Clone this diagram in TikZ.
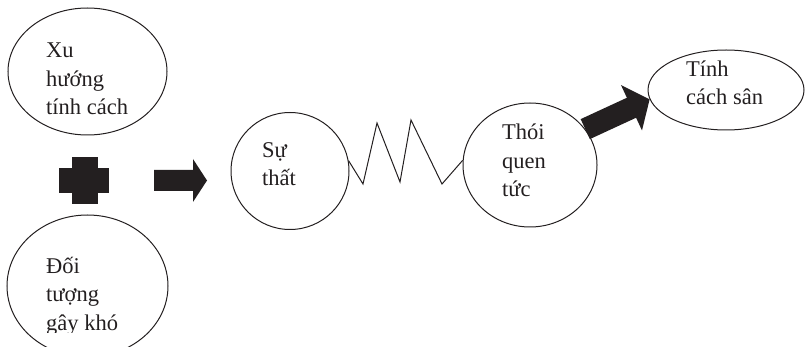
\documentclass[tikz,border=0pt]{standalone}
\usepackage{fontspec}
\setmainfont{Liberation Serif}
\usepackage{tikz}
\usetikzlibrary{arrows.meta, shapes.geometric}
\definecolor{inkblack}{HTML}{231F20}

\tikzset{
  bubble/.style={draw=inkblack, ellipse, line width=1pt, inner sep=0pt},
  lbl/.style={font=\fontsize{22.5}{28.5}\selectfont, text=inkblack, align=left, anchor=base west, inner sep=0pt},
  bigarrow/.style={inkblack, line width=22pt, -{Triangle[width=49pt,length=20pt]}}
}

\begin{document}
\begin{tikzpicture}[x=1pt, y=-1pt]
  \useasboundingbox (0,0) rectangle (805,347);
  % bubbles
  \node[bubble, minimum width=159pt, minimum height=127pt] (xu) at (87.5,71.5) {};
  \node[bubble, minimum width=161pt, minimum height=142pt] (doi) at (87.5,286) {};
  \node[bubble, minimum width=118pt, minimum height=117pt] (sat) at (290,171) {};
  \node[bubble, minimum width=134pt, minimum height=124pt] (thoi) at (530,165) {};
  \node[bubble, minimum width=156pt, minimum height=80pt] (tinh) at (726,90) {};
  % texts (placed at the baseline of the last line)
  \node[lbl] (xutext) at (46,115) {Xu\\hướng\\tính cách};
  \begin{scope}
    \clip (0,0) rectangle (805,332);
    \node[lbl] (doitext) at (46,330) {Đối\\tượng\\gây khó};
  \end{scope}
  \node[lbl] (sattext) at (262,186) {Sự\\thất};
  \node[lbl] (thoitext) at (502,197) {Thói\\quen\\tức};
  \node[lbl] (tinhtext) at (686,105) {Tính\\cách sân};
  % plus and arrow
  \fill[inkblack] (59,168) rectangle (109,193);
  \fill[inkblack] (72,157) rectangle (98,204);
  \fill[inkblack] (154,170) -- (193,170) -- (193,159) -- (207,180.5)
    -- (193,202) -- (193,191) -- (154,191) -- cycle;
  % zigzag
  \draw[inkblack, line width=1pt] (sat.10) -- (363,184) -- (377,123) -- (400,182)
    -- (411,120) -- (442,184) -- (thoi.176);
  \draw[bigarrow] (thoi.33) -- (tinh.187);
\end{tikzpicture}
\end{document}
